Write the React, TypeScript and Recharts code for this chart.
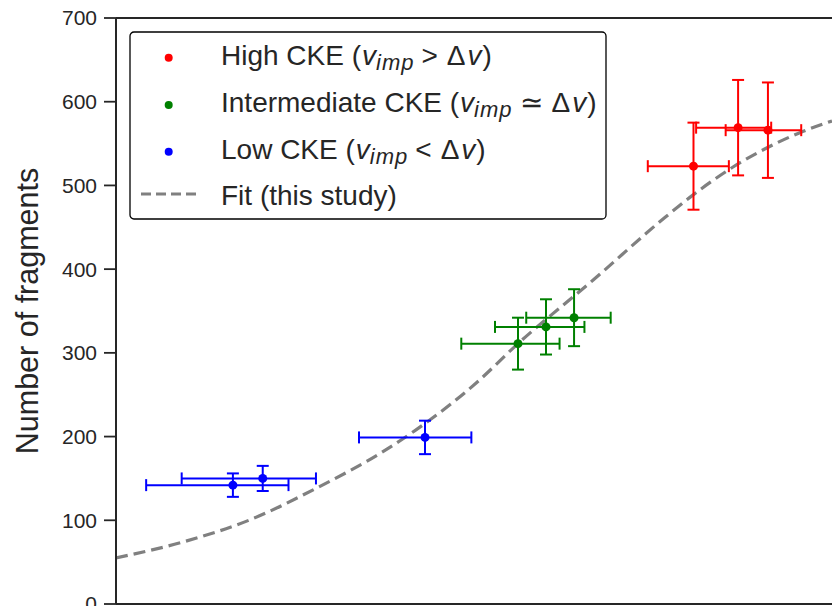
import React from 'react';
import {
  ComposedChart,
  Scatter,
  Line,
  XAxis,
  YAxis,
  ErrorBar,
  ReferenceLine,
  Legend,
} from 'recharts';

// ---- Data ----
const blueX = [0.637, 0.77, 2.16];
const blueXErr = [0.27, 0.31, 0.74];
const blueY = [142, 150, 199];
const blueYErr = [14, 15, 20];

const greenX = [3.9, 4.66, 5.57];
const greenXErr = [1.18, 1.29, 1.46];
const greenY = [311, 331, 342];
const greenYErr = [31, 33, 34];

const redX = [11.9, 15.8, 19.1];
const redXErr = [3.0, 3.7, 4.5];
const redY = [523, 569, 566];
const redYErr = [52, 57, 57];

const fitX = [0.303, 0.463, 0.705, 1.079, 1.653, 2.04, 2.99, 3.9, 6.29, 9.94, 11.9, 15.3, 19.0, 23.4, 28.7];
const fitY = [55, 74, 100, 138, 182, 208, 264, 311, 387, 462, 489, 522, 545, 563, 577];

const yTicks = [0, 100, 200, 300, 400, 500, 600, 700];
const xTicks = [0.4, 0.5, 0.6, 0.7, 0.8, 0.9, 1, 2, 3, 4, 5, 6, 7, 8, 9, 10, 20];

const seriesColors = { high: '#ff0000', mid: '#008000', low: '#0000ff', fit: '#808080' };

const build = (xs: number[], xe: number[], ys: number[], ye: number[]) =>
  xs.map((x, i) => ({ x, y: ys[i], xe: xe[i], ye: ye[i] }));

const blueData = build(blueX, blueXErr, blueY, blueYErr);
const greenData = build(greenX, greenXErr, greenY, greenYErr);
const redData = build(redX, redXErr, redY, redYErr);
const fitData = fitX.map((x, i) => ({ x, y: fitY[i] }));

const FONT = '"Liberation Sans", Arial, Helvetica, sans-serif';
const INK = '#262626';

const dot = (color: string) => (props: any) => {
  const { cx, cy } = props;
  if (cx == null || cy == null) return <g />;
  return <circle cx={cx} cy={cy} r={4.5} fill={color} stroke="none" />;
};

const MathV = ({ rel }: { rel: string }) => (
  <>
    <tspan fontStyle="italic" dx={1}>v</tspan>
    <tspan fontStyle="italic" fontSize={22} letterSpacing={1} dy={5}>imp</tspan>
    <tspan dy={-5} dx={7}>{rel}</tspan>
    <tspan dx={9}>Δ</tspan>
    <tspan fontStyle="italic" dx={2}>v</tspan>
    <tspan dx={1}>)</tspan>
  </>
);

const LegendBox = () => {
  const tx = 92;
  return (
    <svg width={480} height={191} style={{ display: 'block' }}>
      <rect x={1} y={1} width={476} height={187} rx={4} ry={4} fill="#ffffff" stroke="#000000" strokeWidth={1.3} />
      <circle cx={39.7} cy={26.7} r={4} fill={seriesColors.high} />
      <circle cx={39.7} cy={74} r={4} fill={seriesColors.mid} />
      <circle cx={39.7} cy={120.7} r={4} fill={seriesColors.low} />
      <line x1={12} y1={163} x2={67} y2={163} stroke={seriesColors.fit} strokeWidth={3} strokeDasharray="10 5" />
      <g fontFamily={FONT} fontSize={28} fill={INK}>
        <text x={tx} y={34}>
          <tspan>High CKE (</tspan>
          <MathV rel=">" />
        </text>
        <text x={tx} y={81}>
          <tspan>Intermediate CKE (</tspan>
          <MathV rel="≃" />
        </text>
        <text x={tx} y={127.5}>
          <tspan>Low CKE (</tspan>
          <MathV rel="<" />
        </text>
        <text x={tx} y={174}>Fit (this study)</text>
      </g>
    </svg>
  );
};

const YLabel = () => (
  <text
    transform="translate(38,311) rotate(-90)"
    textAnchor="middle"
    fontFamily={FONT}
    fontSize={30.5}
    fill={INK}
  >
    Number of fragments
  </text>
);

export default function App() {
  return (
    <div style={{ position: 'absolute', left: 0, top: 0, width: 832, height: 606, overflow: 'hidden', background: '#fff' }}>
      <ComposedChart width={832} height={606} margin={{ top: 18, right: 0, bottom: 0, left: 0 }}>
        <XAxis
          dataKey="x"
          type="number"
          scale="log"
          domain={[0.303, 28.7]}
          allowDataOverflow
          ticks={xTicks}
          tick={false}
          tickSize={5}
          height={2}
          axisLine={{ stroke: INK, strokeWidth: 2 }}
          tickLine={{ stroke: INK, strokeWidth: 1.5 }}
        />
        <YAxis
          dataKey="y"
          type="number"
          domain={[0, 700]}
          ticks={yTicks}
          interval={0}
          width={116}
          tickSize={12}
          tickMargin={7}
          axisLine={{ stroke: INK, strokeWidth: 2 }}
          tickLine={{ stroke: INK, strokeWidth: 1.8 }}
          tick={{ fontSize: 21, fill: INK, fontFamily: FONT }}
          label={{ content: () => <YLabel /> }}
        />
        <ReferenceLine y={700} stroke={INK} strokeWidth={2} />
        <Line
          data={fitData}
          dataKey="y"
          type="monotone"
          stroke={seriesColors.fit}
          strokeWidth={3.2}
          strokeDasharray="12 6"
          dot={false}
          activeDot={false}
          isAnimationActive={false}
          legendType="none"
        />
        <Scatter data={blueData} fill={seriesColors.low} shape={dot(seriesColors.low)} isAnimationActive={false}>
          <ErrorBar dataKey="xe" direction="x" width={6} strokeWidth={2} stroke={seriesColors.low} />
          <ErrorBar dataKey="ye" direction="y" width={6} strokeWidth={2} stroke={seriesColors.low} />
        </Scatter>
        <Scatter data={greenData} fill={seriesColors.mid} shape={dot(seriesColors.mid)} isAnimationActive={false}>
          <ErrorBar dataKey="xe" direction="x" width={6} strokeWidth={2} stroke={seriesColors.mid} />
          <ErrorBar dataKey="ye" direction="y" width={6} strokeWidth={2} stroke={seriesColors.mid} />
        </Scatter>
        <Scatter data={redData} fill={seriesColors.high} shape={dot(seriesColors.high)} isAnimationActive={false}>
          <ErrorBar dataKey="xe" direction="x" width={6} strokeWidth={2} stroke={seriesColors.high} />
          <ErrorBar dataKey="ye" direction="y" width={6} strokeWidth={2} stroke={seriesColors.high} />
        </Scatter>
        <Legend
          layout="horizontal"
          verticalAlign="middle"
          align="center"
          content={() => <LegendBox />}
          wrapperStyle={{ left: 129, top: 31, width: 480, height: 191 }}
        />
      </ComposedChart>
    </div>
  );
}
